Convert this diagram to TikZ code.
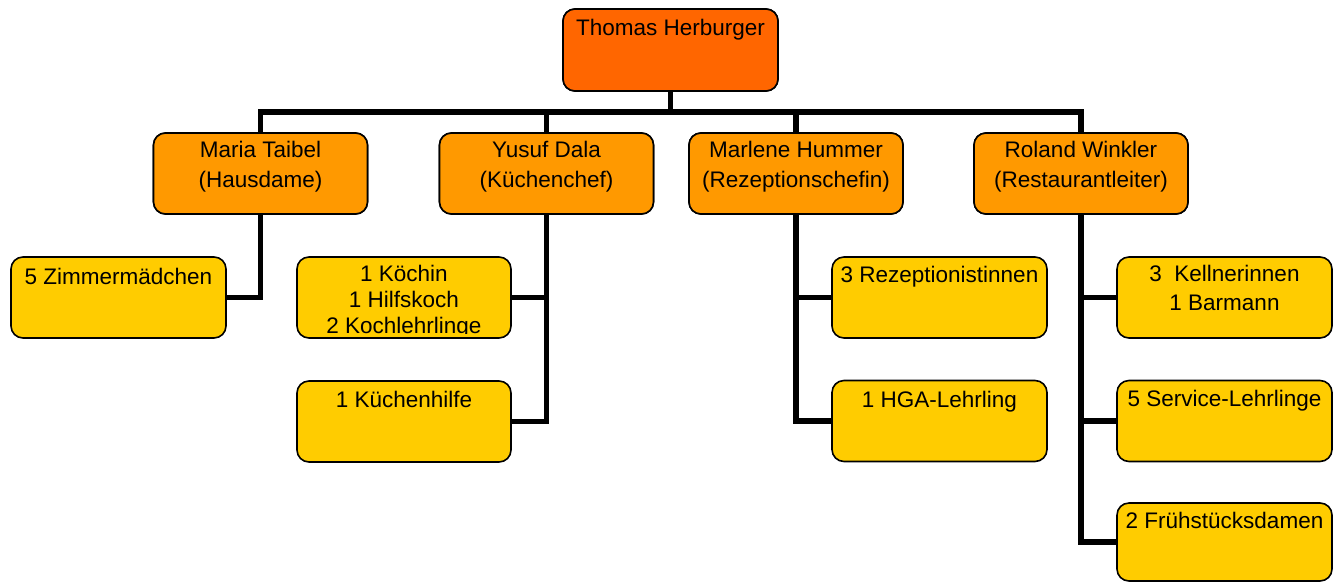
\documentclass[tikz,border=0pt]{standalone}
\usepackage{fontspec}
\setmainfont{Liberation Sans}
\usetikzlibrary{calc}
\definecolor{topc}{RGB}{255,102,0}
\definecolor{midc}{RGB}{255,153,0}
\definecolor{lowc}{RGB}{255,204,0}
\tikzset{
  box/.style={draw=black, line width=1.6pt, rounded corners=12pt, inner sep=0pt, minimum width=214pt, minimum height=81pt},
  topbox/.style={box, fill=topc},
  midbox/.style={box, fill=midc},
  lowbox/.style={box, fill=lowc},
  lbl/.style={anchor=base, inner sep=0pt, font=\fontsize{22.5pt}{27pt}\selectfont},
  conn/.style={line width=5.5pt, line cap=rect}
}
\begin{document}
\begin{tikzpicture}[x=1pt, y=-1pt]
\useasboundingbox (0,0) rectangle (1338,582);
% boxes
\node[topbox, minimum width=215pt, minimum height=82pt] (top) at (670.5,50) {};
\node[midbox] (maria) at (260.5,173.5) {};
\node[midbox] (yusuf) at (546.5,173.5) {};
\node[midbox] (marlene) at (796,173.5) {};
\node[midbox] (roland) at (1081,173.5) {};
\node[lowbox, minimum width=215pt] (zimmer) at (118.5,297.5) {};
\node[lowbox] (koechin) at (404,297.5) {};
\node[lowbox] (hilfe) at (404,421.5) {};
\node[lowbox, minimum width=215pt] (rezep) at (939.5,297.5) {};
\node[lowbox, minimum width=215pt] (hga) at (939.5,421) {};
\node[lowbox, minimum width=215pt] (kellner) at (1224.5,297.5) {};
\node[lowbox, minimum width=215pt] (service) at (1224.5,421) {};
\node[lowbox, minimum width=215pt, minimum height=78pt] (frueh) at (1224.5,542) {};
% connectors
\coordinate (bus) at (0,112);
\draw[conn] (top.south) -- (top.south |- bus);
\draw[conn] (maria.north) -- (maria.north |- bus) -- (roland.north |- bus) -- (roland.north);
\draw[conn] (yusuf.north) -- (yusuf.north |- bus);
\draw[conn] (marlene.north) -- (marlene.north |- bus);
\draw[conn, line cap=butt] (maria.south) |- (zimmer.east);
\draw[conn, line cap=butt] (yusuf.south) |- (hilfe.east);
\draw[conn, line cap=butt] (koechin.east) -- (koechin.east -| yusuf.south);
\draw[conn, line cap=butt] (marlene.south) |- (hga.west);
\draw[conn, line cap=butt] (rezep.west) -- (rezep.west -| marlene.south);
\draw[conn, line cap=butt] (roland.south) |- (frueh.west);
\draw[conn, line cap=butt] (kellner.west) -- (kellner.west -| roland.south);
\draw[conn, line cap=butt] (service.west) -- (service.west -| roland.south);
% redraw boxes on top of connectors
\node[topbox, minimum width=215pt, minimum height=82pt] at (top) {};
\foreach \n in {maria,yusuf,marlene,roland} {\node[midbox] at (\n) {};}
% texts
\node[lbl] (ttop) at ($(top.north)+(0,27)$) {Thomas Herburger};
\node[lbl] (tmaria1) at ($(maria.north)+(0,25)$) {Maria Taibel};
\node[lbl] (tmaria2) at ($(maria.north)+(0,55)$) {(Hausdame)};
\node[lbl] (tyusuf1) at ($(yusuf.north)+(0,25)$) {Yusuf Dala};
\node[lbl] (tyusuf2) at ($(yusuf.north)+(0,55)$) {(Küchenchef)};
\node[lbl] (tmarlene1) at ($(marlene.north)+(0,25)$) {Marlene Hummer};
\node[lbl] (tmarlene2) at ($(marlene.north)+(0,55)$) {(Rezeptionschefin)};
\node[lbl] (troland1) at ($(roland.north)+(0,25)$) {Roland Winkler};
\node[lbl] (troland2) at ($(roland.north)+(0,55)$) {(Restaurantleiter)};
\node[lbl] (tzimmer) at ($(zimmer.north)+(0,28)$) {5 Zimmermädchen};
\begin{scope}
\clip ($(koechin.north west)+(2,2)$) rectangle ($(koechin.east)+(-2,35.5)$);
\node[lbl] (tkoechin1) at ($(koechin.north)+(0,25)$) {1 Köchin};
\node[lbl] (tkoechin2) at ($(koechin.north)+(0,51)$) {1 Hilfskoch};
\node[lbl] (tkoechin3) at ($(koechin.north)+(0,77)$) {2 Kochlehrlinge};
\end{scope}
\node[lbl] (thilfe) at ($(hilfe.north)+(0,27)$) {1 Küchenhilfe};
\node[lbl] (trezep) at ($(rezep.north)+(0,26)$) {3 Rezeptionistinnen};
\node[lbl] (thga) at ($(hga.north)+(0,28)$) {1 HGA-Lehrling};
\node[lbl] (tkellner1) at ($(kellner.north)+(0,25)$) {3\ \ Kellnerinnen};
\node[lbl] (tkellner2) at ($(kellner.north)+(0,54)$) {1 Barmann};
\node[lbl] (tservice) at ($(service.north)+(0,27)$) {5 Service-Lehrlinge};
\node[lbl] (tfrueh) at ($(frueh.north)+(0,26)$) {2 Frühstücksdamen};
\end{tikzpicture}
\end{document}
